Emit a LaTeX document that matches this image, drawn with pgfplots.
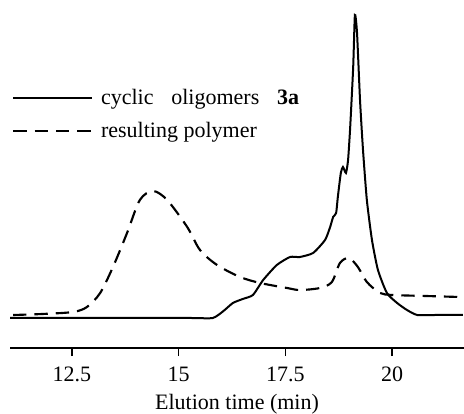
\documentclass[border=0pt]{standalone}
\usepackage{pgfplots}
\pgfplotsset{compat=1.18}
\usepackage{fontspec}
\setmainfont{Liberation Serif}

\begin{document}
\begin{tikzpicture}
\fontsize{16.5}{19}\selectfont
\begin{axis}[
    scale only axis,
    width=340.5pt, height=261pt,
    xmin=11.047, xmax=21.687,
    ymin=0, ymax=348,
    axis x line=bottom,
    axis y line=none,
    x axis line style={-, line width=1.4pt},
    xtick={12.5,15,17.5,20},
    xticklabels={12.5,15,17.5,20},
    tick align=outside,
    major tick length=6pt,
    tick style={line width=1.2pt, black},
    xticklabel shift=2.5pt,
    xlabel={Elution time (min)},
    xlabel style={yshift=2pt},
    ticklabel style={font=\fontsize{16.5}{19}\selectfont},
    label style={font=\fontsize{16.5}{19}\selectfont},
    clip=false,
    legend style={draw=none, fill=none, at={(0,0.753)}, anchor=north west,
        inner xsep=1.5pt, inner ysep=0pt, row sep=7pt, column sep=4pt,
        font=\fontsize{16.5}{19}\selectfont},
    legend cell align=left,
    legend image code/.code={\draw[#1] (0pt,0pt) -- (59pt,0pt);},
]
\addplot[black, line width=1.5pt, smooth, tension=0.35] coordinates {
(11.05,30) (12.5,30) (14.0,30) (15.3,30) (15.80,30) (16.05,37) (16.27,45) (16.50,49) (16.74,53)
(16.98,68) (17.30,83) (17.61,91)
(17.84,91) (18.15,95) (18.43,108) (18.55,121) (18.62,131) (18.69,135)
(18.73,151) (18.80,175) (18.85,181) (18.92,175) (18.97,188) (19.02,221)
(19.09,281) (19.13,333) (19.18,315) (19.25,248) (19.32,198) (19.41,148)
(19.53,108) (19.67,78) (19.88,55) (20.12,45) (20.35,38) (20.59,33) (21.0,33) (21.66,33)
};
\addlegendentry{cyclic\;\; oligomers\;\; \textbf{3a}}
\addplot[black, line width=1.6pt, dash pattern=on 10pt off 6pt, smooth, tension=0.5] coordinates {
(11.12,33) (11.8,34) (12.52,36) (12.85,41) (13.16,55) (13.46,81) (13.79,115)
(14.09,148) (14.40,157) (14.73,148) (15.20,121) (15.50,98) (15.90,83)
(16.44,71) (16.91,65) (17.54,60) (17.84,58) (18.31,60) (18.59,66)
(18.78,85) (18.99,90) (19.20,81) (19.41,66) (19.72,55) (20.02,53) (20.8,52) (21.59,51)
};
\addlegendentry{resulting polymer}
\end{axis}
\pgfresetboundingbox
\path[use as bounding box] ([shift={(-7.5pt,-49.5pt)}]current axis.south west) rectangle (current axis.north east);
\end{tikzpicture}
\end{document}
